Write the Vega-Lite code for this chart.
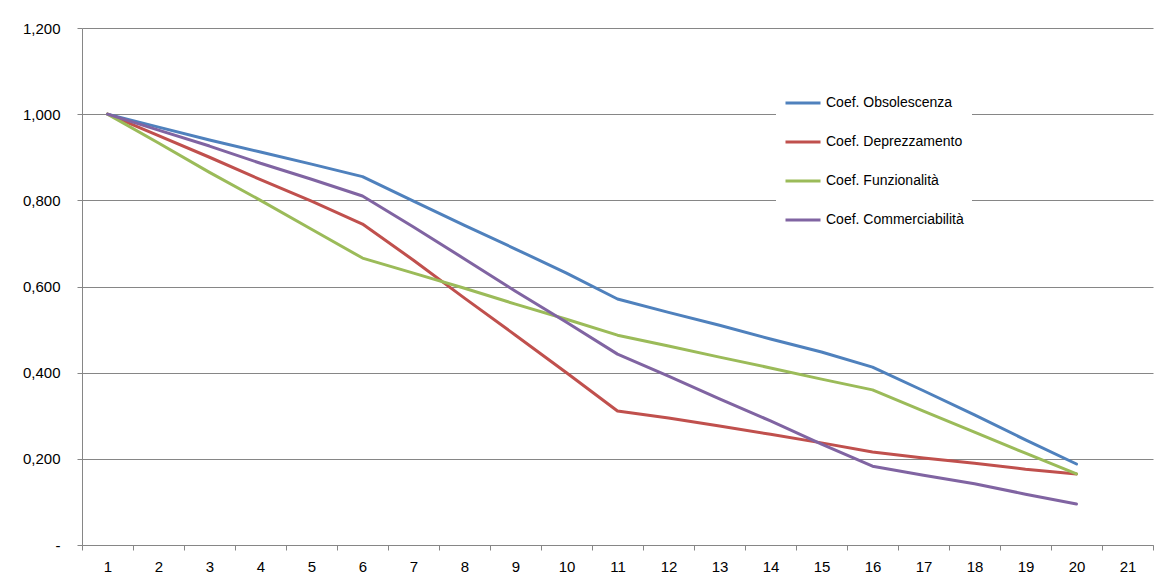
{
  "$schema": "https://vega.github.io/schema/vega-lite/v6.json",
  "width": 1071,
  "height": 517,
  "autosize": {"type": "none"},
  "padding": {"left": 82, "top": 28, "right": 9, "bottom": 39},
  "background": "white",
  "config": {
    "view": {"stroke": null},
    "font": "Liberation Sans",
    "axis": {"labelFont": "Liberation Sans", "labelColor": "#000000", "domainColor": "#868686", "tickColor": "#868686", "gridColor": "#868686", "gridOpacity": 1, "domainWidth": 1, "tickWidth": 1, "gridWidth": 1}
  },
  "datasets": {
    "d": [
      {"x": 1, "s": "Coef. Obsolescenza", "v": 1.000},
      {"x": 2, "s": "Coef. Obsolescenza", "v": 0.970},
      {"x": 3, "s": "Coef. Obsolescenza", "v": 0.940},
      {"x": 4, "s": "Coef. Obsolescenza", "v": 0.912},
      {"x": 5, "s": "Coef. Obsolescenza", "v": 0.884},
      {"x": 6, "s": "Coef. Obsolescenza", "v": 0.855},
      {"x": 7, "s": "Coef. Obsolescenza", "v": 0.798},
      {"x": 8, "s": "Coef. Obsolescenza", "v": 0.742},
      {"x": 9, "s": "Coef. Obsolescenza", "v": 0.687},
      {"x": 10, "s": "Coef. Obsolescenza", "v": 0.631},
      {"x": 11, "s": "Coef. Obsolescenza", "v": 0.571},
      {"x": 12, "s": "Coef. Obsolescenza", "v": 0.540},
      {"x": 13, "s": "Coef. Obsolescenza", "v": 0.510},
      {"x": 14, "s": "Coef. Obsolescenza", "v": 0.478},
      {"x": 15, "s": "Coef. Obsolescenza", "v": 0.448},
      {"x": 16, "s": "Coef. Obsolescenza", "v": 0.413},
      {"x": 17, "s": "Coef. Obsolescenza", "v": 0.358},
      {"x": 18, "s": "Coef. Obsolescenza", "v": 0.302},
      {"x": 19, "s": "Coef. Obsolescenza", "v": 0.244},
      {"x": 20, "s": "Coef. Obsolescenza", "v": 0.188},
      {"x": 1, "s": "Coef. Deprezzamento", "v": 1.000},
      {"x": 2, "s": "Coef. Deprezzamento", "v": 0.950},
      {"x": 3, "s": "Coef. Deprezzamento", "v": 0.900},
      {"x": 4, "s": "Coef. Deprezzamento", "v": 0.848},
      {"x": 5, "s": "Coef. Deprezzamento", "v": 0.798},
      {"x": 6, "s": "Coef. Deprezzamento", "v": 0.745},
      {"x": 7, "s": "Coef. Deprezzamento", "v": 0.661},
      {"x": 8, "s": "Coef. Deprezzamento", "v": 0.573},
      {"x": 9, "s": "Coef. Deprezzamento", "v": 0.487},
      {"x": 10, "s": "Coef. Deprezzamento", "v": 0.400},
      {"x": 11, "s": "Coef. Deprezzamento", "v": 0.311},
      {"x": 12, "s": "Coef. Deprezzamento", "v": 0.295},
      {"x": 13, "s": "Coef. Deprezzamento", "v": 0.276},
      {"x": 14, "s": "Coef. Deprezzamento", "v": 0.257},
      {"x": 15, "s": "Coef. Deprezzamento", "v": 0.237},
      {"x": 16, "s": "Coef. Deprezzamento", "v": 0.216},
      {"x": 17, "s": "Coef. Deprezzamento", "v": 0.202},
      {"x": 18, "s": "Coef. Deprezzamento", "v": 0.190},
      {"x": 19, "s": "Coef. Deprezzamento", "v": 0.176},
      {"x": 20, "s": "Coef. Deprezzamento", "v": 0.165},
      {"x": 1, "s": "Coef. Funzionalità", "v": 1.000},
      {"x": 2, "s": "Coef. Funzionalità", "v": 0.933},
      {"x": 3, "s": "Coef. Funzionalità", "v": 0.865},
      {"x": 4, "s": "Coef. Funzionalità", "v": 0.800},
      {"x": 5, "s": "Coef. Funzionalità", "v": 0.733},
      {"x": 6, "s": "Coef. Funzionalità", "v": 0.666},
      {"x": 7, "s": "Coef. Funzionalità", "v": 0.631},
      {"x": 8, "s": "Coef. Funzionalità", "v": 0.596},
      {"x": 9, "s": "Coef. Funzionalità", "v": 0.559},
      {"x": 10, "s": "Coef. Funzionalità", "v": 0.524},
      {"x": 11, "s": "Coef. Funzionalità", "v": 0.487},
      {"x": 12, "s": "Coef. Funzionalità", "v": 0.462},
      {"x": 13, "s": "Coef. Funzionalità", "v": 0.436},
      {"x": 14, "s": "Coef. Funzionalità", "v": 0.411},
      {"x": 15, "s": "Coef. Funzionalità", "v": 0.385},
      {"x": 16, "s": "Coef. Funzionalità", "v": 0.360},
      {"x": 17, "s": "Coef. Funzionalità", "v": 0.311},
      {"x": 18, "s": "Coef. Funzionalità", "v": 0.262},
      {"x": 19, "s": "Coef. Funzionalità", "v": 0.213},
      {"x": 20, "s": "Coef. Funzionalità", "v": 0.165},
      {"x": 1, "s": "Coef. Commerciabilità", "v": 1.000},
      {"x": 2, "s": "Coef. Commerciabilità", "v": 0.963},
      {"x": 3, "s": "Coef. Commerciabilità", "v": 0.926},
      {"x": 4, "s": "Coef. Commerciabilità", "v": 0.886},
      {"x": 5, "s": "Coef. Commerciabilità", "v": 0.849},
      {"x": 6, "s": "Coef. Commerciabilità", "v": 0.810},
      {"x": 7, "s": "Coef. Commerciabilità", "v": 0.738},
      {"x": 8, "s": "Coef. Commerciabilità", "v": 0.664},
      {"x": 9, "s": "Coef. Commerciabilità", "v": 0.589},
      {"x": 10, "s": "Coef. Commerciabilità", "v": 0.517},
      {"x": 11, "s": "Coef. Commerciabilità", "v": 0.443},
      {"x": 12, "s": "Coef. Commerciabilità", "v": 0.392},
      {"x": 13, "s": "Coef. Commerciabilità", "v": 0.339},
      {"x": 14, "s": "Coef. Commerciabilità", "v": 0.288},
      {"x": 15, "s": "Coef. Commerciabilità", "v": 0.234},
      {"x": 16, "s": "Coef. Commerciabilità", "v": 0.183},
      {"x": 17, "s": "Coef. Commerciabilità", "v": 0.162},
      {"x": 18, "s": "Coef. Commerciabilità", "v": 0.142},
      {"x": 19, "s": "Coef. Commerciabilità", "v": 0.118},
      {"x": 20, "s": "Coef. Commerciabilità", "v": 0.095}
    ]
  },
  "data": {"name": "d"},
  "mark": {"type": "line", "strokeWidth": 3, "strokeCap": "round", "strokeJoin": "round"},
  "encoding": {
    "x": {
      "field": "x", "type": "quantitative",
      "scale": {"domain": [0.5, 21.5], "nice": false, "zero": false},
      "axis": {
        "title": null, "grid": false,
        "values": [0.5, 1.5, 2.5, 3.5, 4.5, 5.5, 6.5, 7.5, 8.5, 9.5, 10.5, 11.5, 12.5, 13.5, 14.5, 15.5, 16.5, 17.5, 18.5, 19.5, 20.5, 21.5],
        "labelExpr": "datum.value < 21 ? format(datum.value + 0.5, 'd') : ''",
        "labelOffset": 25.5,
        "labelFontSize": 15,
        "tickSize": 5,
        "labelPadding": 9,
        "labelFlush": false,
        "labelOverlap": false
      }
    },
    "y": {
      "field": "v", "type": "quantitative",
      "scale": {"domain": [0, 1.2], "nice": false},
      "axis": {
        "title": null, "grid": true,
        "values": [0, 0.2, 0.4, 0.6, 0.8, 1.0, 1.2],
        "labelExpr": "datum.value == 0 ? '-' : replace(format(datum.value, '.3f'), '.', ',')",
        "labelFontSize": 15,
        "tickSize": 5,
        "labelPadding": 17,
        "labelFlush": false,
        "labelOverlap": false
      }
    },
    "color": {
      "field": "s", "type": "nominal",
      "sort": ["Coef. Obsolescenza", "Coef. Deprezzamento", "Coef. Funzionalità", "Coef. Commerciabilità"],
      "scale": {
        "domain": ["Coef. Obsolescenza", "Coef. Deprezzamento", "Coef. Funzionalità", "Coef. Commerciabilità"],
        "range": ["#4F81BD", "#C0504D", "#9BBB59", "#8064A2"]
      },
      "legend": {
        "title": null,
        "orient": "none",
        "legendX": 694,
        "legendY": 48,
        "fillColor": "white",
        "padding": 8,
        "symbolType": "stroke",
        "symbolSize": 1225,
        "symbolStrokeWidth": 3,
        "labelFontSize": 14,
        "labelColor": "#000000",
        "labelFont": "Liberation Sans",
        "labelOffset": 4,
        "rowPadding": 13,
        "labelLimit": 300
      }
    }
  }
}
